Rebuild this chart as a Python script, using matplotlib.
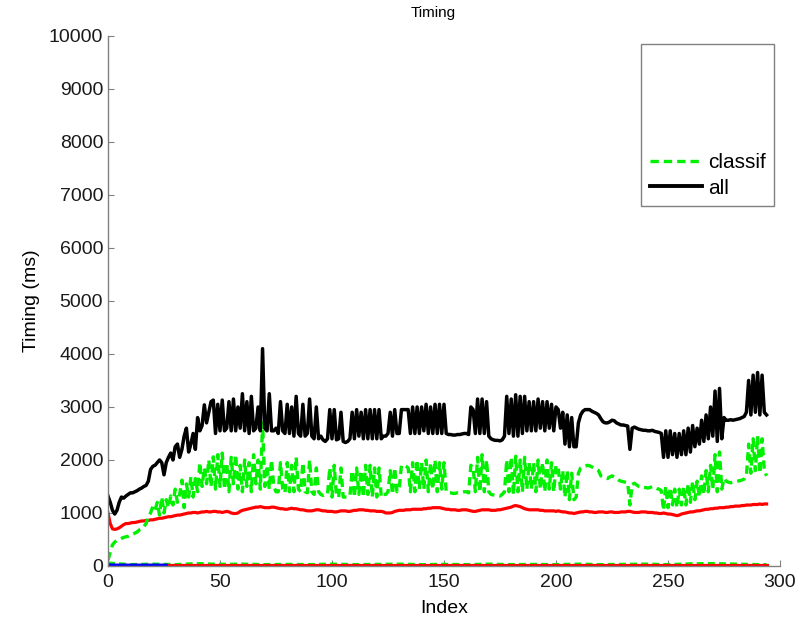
import matplotlib
matplotlib.use("Agg")
import matplotlib.pyplot as plt
from matplotlib.lines import Line2D
import numpy as np

plt.rcParams['font.family'] = ['Liberation Sans', 'DejaVu Sans']

# ------------------------------------------------------------------------------------------
# values (ms), one per index 0..294
timing_all = [
    1320, 1200, 1050, 980, 1050, 1200, 1300, 1280, 1320, 1350,
    1380, 1380, 1400, 1420, 1450, 1470, 1500, 1520, 1600, 1820,
    1880, 1900, 1950, 2000, 1950, 1720, 1950, 2050, 2130, 2000,
    2250, 2300, 2050, 2200, 2450, 2600, 2150, 2300, 2500, 2200,
    2800, 2550, 2650, 3040, 2700, 2900, 3100, 3130, 2500, 3050,
    2550, 3130, 2550, 2600, 3100, 2550, 3150, 2550, 3000, 2600,
    3250, 2550, 3100, 2500, 3200, 2550, 2600, 3000, 2550, 4100,
    2600, 2550, 3250, 2550, 2550, 2600, 2500, 3100, 2550, 2500,
    3050, 2500, 3000, 2450, 3200, 2500, 2450, 3050, 2450, 2500,
    3150, 2450, 2400, 3000, 2400, 2450, 2380, 2350, 2400, 2950,
    2400, 2950, 2380, 2400, 2900, 2350, 2330, 2350, 2400, 2900,
    2400, 2950, 2450, 2900, 2400, 2950, 2400, 2950, 2400, 2950,
    2400, 2950, 2400, 2450, 2450, 2500, 2900, 2450, 2950, 2500,
    2500, 2950, 2950, 2950, 2950, 2500, 3000, 2500, 3000, 2500,
    3000, 2550, 3050, 2500, 3000, 2500, 3050, 2500, 3050, 2500,
    3050, 2500, 2480, 2480, 2470, 2470, 2480, 2480, 2490, 2500,
    2500, 2480, 3000, 2950, 2500, 3150, 2500, 3150, 2500, 3100,
    2450, 2400, 2380, 2370, 2370, 2360, 2380, 2450, 3200, 2500,
    3150, 2450, 3230, 2450, 3200, 2500, 3200, 2550, 3100, 2550,
    3100, 2550, 3150, 2600, 3100, 2550, 3100, 2600, 3050, 2550,
    3000, 2950, 2600, 2900, 2300, 2850, 2250, 2800, 2250, 2250,
    2700, 2850, 2920, 2950, 2950, 2950, 2920, 2900, 2880, 2850,
    2780, 2720, 2700, 2700, 2720, 2750, 2740, 2700, 2680, 2660,
    2660, 2650, 2640, 2200, 2600, 2620, 2600, 2580, 2570, 2560,
    2560, 2550, 2550, 2560, 2540, 2530, 2520, 2500, 2050, 2550,
    2050, 2550, 2100, 2500, 2050, 2500, 2100, 2550, 2100, 2600,
    2150, 2650, 2250, 2600, 2300, 2750, 2350, 2850, 2400, 3000,
    2450, 3300, 2350, 3350, 2400, 2800, 2750, 2750, 2760, 2750,
    2760, 2770, 2780, 2800, 2820, 2900, 3500, 2850, 3600, 2900,
    3650, 2850, 3600, 2900, 2850,
]

timing_classif = [
    110, 260, 400, 450, 480, 500, 520, 540, 550, 560,
    580, 600, 620, 640, 680, 700, 740, 800, 930, 1000,
    1120, 1050, 1200, 960, 1300, 1000, 1250, 1100, 1320, 1150,
    1450, 1200, 1350, 1620, 1100, 1550, 1300, 1680, 1300, 1650,
    1400, 1950, 1500, 1850, 1550, 2000, 1500, 2060, 1450, 2100,
    1500, 2130, 1450, 1950, 1400, 2050, 1550, 2100, 1450, 1900,
    1400, 2000, 1500, 1950, 1400, 2100, 1550, 2000, 1450, 2700,
    1500, 1900, 1450, 2000, 1500, 1400, 1400, 1950, 1450, 1380,
    1950, 1400, 1900, 1400, 2050, 1450, 1400, 1950, 1400, 1380,
    2000, 1400, 1350, 1850, 1400, 1350, 1330, 1350, 1350, 1850,
    1300, 1900, 1320, 1300, 1850, 1300, 1300, 1300, 1320, 1800,
    1300, 1850, 1350, 1800, 1300, 1900, 1350, 1900, 1300, 1850,
    1300, 1850, 1300, 1350, 1350, 1400, 1800, 1350, 1850, 1400,
    1450, 1900, 1900, 1880, 1850, 1400, 1950, 1400, 2000, 1450,
    1950, 1450, 2000, 1400, 1950, 1450, 2000, 1400, 1950, 1450,
    1950, 1400, 1380, 1380, 1370, 1370, 1380, 1380, 1390, 1400,
    1400, 1380, 1900, 1850, 1400, 2050, 1400, 2100, 1400, 2000,
    1400, 1350, 1340, 1330, 1330, 1320, 1350, 1400, 2000, 1400,
    2050, 1350, 2070, 1400, 2000, 1400, 2050, 1450, 1950, 1450,
    1950, 1400, 2000, 1450, 1950, 1400, 2000, 1450, 1950, 1400,
    1900, 1850, 1450, 1800, 1300, 1800, 1250, 1750, 1250, 1300,
    1750, 1850, 1870, 1880, 1900, 1890, 1870, 1850, 1830, 1800,
    1700, 1680, 1660, 1650, 1680, 1700, 1680, 1650, 1620, 1600,
    1590, 1580, 1570, 1150, 1540, 1560, 1530, 1500, 1500, 1480,
    1480, 1470, 1480, 1500, 1480, 1460, 1450, 1420, 1050, 1500,
    1100, 1480, 1150, 1450, 1100, 1450, 1150, 1500, 1150, 1550,
    1200, 1600, 1250, 1600, 1300, 1700, 1350, 1800, 1400, 1900,
    1450, 2100, 1400, 2150, 1450, 1650, 1600, 1580, 1570, 1580,
    1590, 1600, 1610, 1620, 1640, 1700, 2300, 1750, 2400, 1800,
    2450, 1750, 2400, 1800, 1700,
]

timing_features = [
    1000, 800, 700, 690, 700, 720, 750, 780, 800, 800,
    810, 820, 820, 830, 840, 850, 850, 860, 860, 870,
    870, 880, 890, 900, 900, 910, 920, 930, 930, 940,
    950, 960, 960, 970, 980, 990, 1000, 1000, 1010, 1010,
    1000, 1010, 1020, 1020, 1030, 1020, 1020, 1030, 1030, 1020,
    1020, 1010, 1020, 1030, 1020, 1000, 990, 990, 1000, 1030,
    1050, 1060, 1070, 1080, 1090, 1100, 1110, 1110, 1120, 1110,
    1100, 1100, 1100, 1110, 1110, 1100, 1090, 1080, 1080, 1070,
    1070, 1080, 1090, 1080, 1080, 1070, 1060, 1060, 1050, 1040,
    1040, 1040, 1050, 1060, 1060, 1050, 1040, 1040, 1030, 1030,
    1030, 1020, 1020, 1030, 1040, 1040, 1040, 1030, 1030, 1040,
    1050, 1050, 1060, 1060, 1060, 1050, 1050, 1040, 1040, 1040,
    1030, 1030, 1030, 1020, 1000, 1000, 1000, 1010, 1030, 1040,
    1050, 1050, 1050, 1060, 1060, 1060, 1070, 1070, 1070, 1070,
    1070, 1080, 1080, 1090, 1090, 1100, 1100, 1100, 1100, 1090,
    1080, 1070, 1070, 1060, 1060, 1060, 1050, 1050, 1060, 1060,
    1060, 1050, 1040, 1030, 1030, 1040, 1050, 1060, 1060, 1060,
    1060, 1050, 1050, 1050, 1060, 1060, 1070, 1080, 1090, 1100,
    1110, 1130, 1140, 1130, 1120, 1100, 1080, 1070, 1060, 1060,
    1060, 1060, 1060, 1050, 1050, 1040, 1040, 1040, 1040, 1040,
    1030, 1040, 1030, 1020, 1020, 1010, 1000, 1000, 990, 1000,
    1010, 1020, 1020, 1030, 1030, 1020, 1020, 1010, 1010, 1020,
    1020, 1020, 1010, 1010, 1020, 1020, 1010, 1010, 1010, 1020,
    1020, 1020, 1030, 1030, 1020, 1010, 1010, 1010, 1020, 1020,
    1020, 1010, 1010, 1010, 1000, 1000, 990, 990, 1000, 990,
    980, 980, 970, 960, 950, 960, 980, 990, 1000, 1010,
    1020, 1020, 1030, 1040, 1040, 1050, 1060, 1070, 1070, 1080,
    1080, 1090, 1090, 1100, 1100, 1100, 1110, 1110, 1120, 1120,
    1130, 1130, 1130, 1140, 1140, 1150, 1150, 1150, 1160, 1160,
    1160, 1170, 1160, 1170, 1170,
]

# small near-zero series, sampled every 10 indices
index_low = [0, 10, 20, 30, 40, 50, 60, 70, 80, 90, 100, 110, 120, 130, 140, 150,
             160, 170, 180, 190, 200, 210, 220, 230, 240, 250, 260, 270, 280, 290, 294]
timing_low_red = [15, 15, 15, 15, 15, 15, 15, 15, 15, 15, 15, 15, 15, 15, 15, 15,
                  15, 15, 15, 15, 15, 15, 15, 15, 15, 15, 15, 15, 15, 15, 15]
timing_low_green = [60, 30, 40, 30, 50, 35, 40, 30, 35, 30, 40, 30, 35, 40, 30, 35,
                    30, 40, 30, 35, 30, 40, 30, 35, 40, 30, 45, 50, 40, 30, 30]
index_blue = [0, 5, 10, 15, 20, 26]
timing_blue = [20, 15, 15, 15, 15, 15]

x_idx = np.arange(len(timing_all))
green = "#00f000"

fig = plt.figure(figsize=(8.0, 6.17), dpi=100)
ax = fig.add_axes([0.135, 0.0827, 0.84, 0.859])

ax.plot(index_low, timing_low_green, color=green, linestyle="--", linewidth=2.0, dashes=(2.5, 1.5))
ax.plot(index_low, timing_low_red, color="#ff0000", linewidth=2.3)
ax.plot(index_blue, timing_blue, color="#0000ff", linewidth=2.3)
ax.plot(x_idx, timing_features, color="#ff0000", linewidth=2.3)
ax.plot(x_idx, timing_classif, color=green, linestyle="--", linewidth=2.4, dashes=(2.5, 1.5))
ax.plot(x_idx, timing_all, color="black", linewidth=2.5)

ax.set_xlim([0, 300])
ax.set_ylim([0, 10000])
ax.set_xticks(np.arange(0, 301, 50))
ax.set_yticks(np.arange(0, 10001, 1000))

for side in ["top", "right"]:
    ax.spines[side].set_visible(False)
for side in ["left", "bottom"]:
    ax.spines[side].set_color("#808080")
    ax.spines[side].set_linewidth(1.0)
ax.tick_params(direction="in", length=4, width=0.8, color="#808080", labelsize=14, labelcolor="#1a1a1a")
ax.tick_params(axis="x", pad=6)

ax.set_title("Timing", fontsize=11, pad=14, x=0.484)
ax.set_xlabel("Index", fontsize=14, labelpad=6)
ax.set_ylabel("Timing (ms)", fontsize=14, labelpad=6)

# legend only names two lines, the upper rows of the box stay empty
empty = Line2D([], [], color="none")
handles = [empty, empty, empty, empty,
           Line2D([], [], color=green, linestyle="--", linewidth=2.4, dashes=(2.5, 1.5)),
           Line2D([], [], color="black", linewidth=2.8)]
labels = ["", "", "", "", "classif", "all"]
leg = ax.legend(handles, labels, loc="upper right", bbox_to_anchor=(0.991, 0.985), borderaxespad=0,
                fontsize=15, fancybox=False, framealpha=1, edgecolor="#808080",
                handlelength=2.5, handletextpad=0.3, labelspacing=0.3, borderpad=0.4)
leg.get_frame().set_linewidth(1.0)

plt.savefig("out.png", dpi=100)
